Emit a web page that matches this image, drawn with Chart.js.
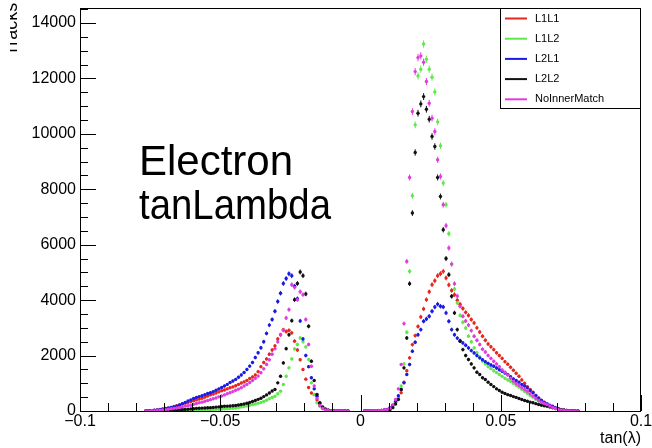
<!DOCTYPE html>
<html lang="en">
<head>
    <meta charset="UTF-8">
    <title>Electron tanLambda</title>
    <script src="https://cdn.jsdelivr.net/npm/chart.js"></script>
    <style>
        body { margin: 0; background: #fff; }
        #plot { display: block; }
    </style>
</head>
<body>
    <canvas id="plot" width="652" height="448"></canvas>

    <script>
        // histogram binning: 1e-3 wide bins, first filled bin centred at -0.0765
        const FIRST_BIN = -0.0765;
        const BIN_WIDTH = 0.001;

        const seriesNames = ['L1L1', 'L1L2', 'L2L1', 'L2L2', 'NoInnerMatch'];
        const seriesColors = ['#e8261c', '#5ee84a', '#1a1ae6', '#111111', '#e03ce0'];

        const xTickLabels = ['\u22120.1', '\u22120.05', '0', '0.05', '0.1'];
        const xTickValues = [-0.1, -0.05, 0, 0.05, 0.1];
        const yTickValues = [0, 2000, 4000, 6000, 8000, 10000, 12000, 14000];

        // bin contents, left lobe (-0.0765 .. -0.0045), 5 empty bins, right lobe (0.0015 .. 0.0775)
        const l1l1 = [
            5, 10, 15, 25, 35, 50, 65, 80, 100, 130,
            160, 190, 220, 250, 280, 310, 340, 370, 400, 430,
            460, 500, 540, 580, 610, 650, 690, 730, 760, 800,
            840, 870, 910, 960, 1010, 1050, 1100, 1170, 1230, 1300,
            1420, 1600, 1750, 1880, 2050, 2200, 2350, 2600, 2750, 2930,
            2870, 2910, 2820, 2520, 2200, 1850, 1500, 1150, 850, 650,
            590, 400, 220, 100, 50, 25, 12, 6, 3, 2,
            1, 1, 1,
            null, null, null, null, null,
            1, 2, 3, 5, 8, 12, 20, 35, 60, 110,
            200, 320, 470, 656, 1038, 1450, 1917, 2396, 2721, 3050,
            3395, 3683, 4018, 4300, 4559, 4700, 4883, 4955, 5038, 4800,
            4550, 4350, 4198, 4000, 3850, 3700, 3560, 3450, 3300, 3178,
            3000, 2850, 2700, 2550, 2420, 2320, 2216, 2100, 2000, 1900,
            1780, 1690, 1580, 1470, 1360, 1255, 1120, 1000, 880, 780,
            680, 560, 475, 390, 317, 240, 190, 150, 110, 80,
            55, 35, 22, 14, 8, 4, 2
        ];

        const l1l2 = [
            1, 1, 2, 3, 4, 5, 6, 8, 10, 12,
            14, 16, 18, 20, 22, 25, 28, 31, 34, 37,
            40, 44, 48, 52, 56, 60, 65, 70, 76, 82,
            90, 100, 110, 125, 140, 160, 180, 205, 230, 255,
            280, 310, 345, 390, 440, 490, 533, 620, 714, 955,
            1255, 1556, 1880, 2241, 2400, 2636, 2500, 2313, 1856, 1016,
            595, 300, 173, 90, 40, 20, 10, 5, 3, 2,
            1, 1, 1,
            null, null, null, null, null,
            1, 1, 2, 3, 5, 8, 12, 20, 35, 60,
            120, 300, 450, 900, 1700, 2840, 5038, 7766, 10325, 12090,
            12332, 13243, 12692, 12332, 12044, 11513, 10432, 9568, 8222, 7441,
            6396, 5300, 4400, 3900, 3450, 3200, 2997, 2700, 2500, 2277,
            2100, 1950, 1800, 1700, 1600, 1530, 1450, 1390, 1320, 1250,
            1180, 1120, 1075, 1000, 930, 860, 780, 700, 630, 560,
            500, 420, 360, 310, 270, 220, 180, 140, 100, 70,
            45, 30, 18, 10, 6, 3, 2
        ];

        const l2l1 = [
            5, 10, 15, 25, 40, 55, 75, 95, 110, 125,
            145, 175, 220, 265, 310, 360, 400, 450, 490, 520,
            550, 590, 630, 660, 700, 750, 800, 850, 900, 960,
            1030, 1080, 1140, 1220, 1300, 1390, 1500, 1620, 1750, 1930,
            2100, 2280, 2500, 2800, 3100, 3300, 3600, 3950, 4250, 4600,
            4780, 4950, 4880, 4500, 4050, 3250, 2600, 2000, 1600, 1200,
            800, 530, 280, 130, 60, 30, 15, 8, 4, 2,
            1, 1, 1,
            null, null, null, null, null,
            1, 2, 3, 5, 8, 12, 20, 35, 60, 110,
            200, 353, 550, 780, 1016, 1315, 1676, 2155, 2479, 2750,
            2937, 3236, 3322, 3416, 3597, 3750, 3856, 3777, 3755, 3539,
            3236, 2937, 2750, 2630, 2540, 2457, 2370, 2277, 2180, 2096,
            2000, 1917, 1850, 1780, 1720, 1660, 1615, 1550, 1490, 1430,
            1370, 1315, 1240, 1160, 1100, 1040, 960, 900, 836, 740,
            660, 560, 460, 380, 310, 260, 210, 173, 120, 80,
            50, 30, 18, 10, 6, 3, 2
        ];

        const l2l2 = [
            2, 3, 5, 8, 10, 15, 20, 25, 30, 35,
            40, 45, 50, 55, 60, 65, 75, 85, 95, 100,
            105, 110, 115, 120, 130, 140, 150, 160, 170, 175,
            180, 190, 200, 215, 234, 255, 280, 310, 345, 380,
            420, 460, 520, 580, 650, 720, 775, 1016, 1255, 1736,
            2250, 2750, 3260, 4018, 4600, 5016, 4883, 4223, 3056, 1796,
            1100, 595, 300, 150, 70, 30, 15, 8, 4, 2,
            1, 1, 1,
            null, null, null, null, null,
            1, 1, 2, 3, 5, 8, 12, 20, 30, 50,
            120, 250, 414, 775, 1556, 2636, 4595, 7142, 9327, 10744,
            11080, 11344, 10888, 10528, 9904, 9543, 8426, 7741, 6541, 5500,
            4919, 4138, 3539, 2937, 2516, 2216, 2000, 1856, 1700, 1556,
            1400, 1315, 1200, 1135, 1040, 955, 880, 800, 740, 678,
            630, 590, 559, 520, 490, 450, 414, 380, 350, 320,
            300, 265, 234, 210, 190, 170, 140, 115, 90, 70,
            50, 35, 22, 14, 8, 4, 2
        ];

        const noInnerMatch = [
            3, 5, 8, 12, 18, 25, 35, 50, 65, 80,
            95, 110, 125, 150, 175, 195, 210, 240, 270, 295,
            320, 350, 380, 410, 440, 470, 510, 540, 580, 620,
            660, 700, 750, 790, 840, 900, 960, 1030, 1100, 1180,
            1260, 1380, 1520, 1680, 1850, 2050, 2250, 2500, 2750, 2913,
            3358, 3658, 4559, 4461, 4018, 4300, 4198, 3300, 2400, 1615,
            900, 450, 200, 90, 40, 20, 10, 5, 3, 2,
            1, 1, 1,
            null, null, null, null, null,
            2, 3, 5, 8, 12, 18, 25, 35, 50, 100,
            230, 414, 800, 1676, 3153, 5398, 8426, 10804, 12245, 12750,
            12811, 12584, 11886, 11106, 10566, 10083, 9063, 8462, 7441, 6685,
            5880, 5300, 4595, 4150, 3777, 3416, 3250, 3100, 2900, 2696,
            2550, 2400, 2230, 2130, 2000, 1900, 1796, 1700, 1600, 1480,
            1400, 1300, 1180, 1075, 990, 920, 850, 780, 714, 620,
            540, 460, 380, 320, 270, 234, 180, 130, 90, 60,
            40, 25, 15, 10, 6, 3, 2
        ];

        const allSeries = [l1l1, l1l2, l2l1, l2l2, noInnerMatch];
        const FONT = '"Liberation Sans", Arial, Helvetica, sans-serif';

        function toPoints(values) {
            const pts = [];
            values.forEach((v, i) => {
                if (v !== null) pts.push({ x: FIRST_BIN + i * BIN_WIDTH, y: v });
            });
            return pts;
        }

        // ROOT-like frame, inward ticks, labels and legend
        const rootStyle = {
            id: 'rootStyle',
            beforeDatasetsDraw(chart) {
                const ctx = chart.ctx;
                const x = chart.scales.x, y = chart.scales.y;
                // statistical error bars, sqrt(N)
                ctx.save();
                chart.data.datasets.forEach(ds => {
                    ctx.strokeStyle = ds.pointBackgroundColor;
                    ctx.lineWidth = 1;
                    ctx.beginPath();
                    ds.data.forEach(p => {
                        const e = Math.sqrt(p.y);
                        const px = x.getPixelForValue(p.x);
                        ctx.moveTo(px, y.getPixelForValue(p.y + e) - 0.5);
                        ctx.lineTo(px, y.getPixelForValue(Math.max(0, p.y - e)) + 0.5);
                    });
                    ctx.stroke();
                });
                ctx.restore();
            },
            afterDraw(chart) {
                const ctx = chart.ctx;
                const area = chart.chartArea;
                const x = chart.scales.x, y = chart.scales.y;
                ctx.save();

                // frame
                ctx.strokeStyle = '#000';
                ctx.lineWidth = 1;
                ctx.strokeRect(area.left + 0.5, area.top + 0.5, area.right - area.left - 1, area.bottom - area.top);

                // x ticks every 0.01, long ones every 0.05
                ctx.beginPath();
                for (let k = -10; k <= 10; k++) {
                    const px = Math.round(x.getPixelForValue(k / 100)) + 0.5;
                    const len = (k % 5 === 0) ? 16 : 8;
                    ctx.moveTo(px, area.bottom);
                    ctx.lineTo(px, area.bottom - len);
                }
                // y ticks every 500, long ones every 2000
                for (let v = 0; v <= y.max; v += 500) {
                    const py = Math.round(y.getPixelForValue(v)) + 0.5;
                    const len = (v % 2000 === 0) ? 16 : 8;
                    ctx.moveTo(area.left, py);
                    ctx.lineTo(area.left + len, py);
                }
                ctx.stroke();

                // tick labels
                ctx.fillStyle = '#000';
                ctx.font = '16px ' + FONT;
                ctx.textAlign = 'right';
                ctx.textBaseline = 'middle';
                yTickValues.forEach(v => {
                    ctx.fillText(String(v), area.left - 4, y.getPixelForValue(v));
                });
                ctx.textAlign = 'center';
                ctx.textBaseline = 'top';
                xTickValues.forEach((v, i) => {
                    ctx.fillText(xTickLabels[i], x.getPixelForValue(v), area.bottom + 3);
                });

                // axis titles
                ctx.textAlign = 'right';
                ctx.textBaseline = 'alphabetic';
                ctx.fillText('tan(\u03bb)', area.right, 443);
                // y title sits against the page edge, only its lower part shows
                ctx.save();
                ctx.beginPath();
                ctx.rect(10, 0, 20, 80);
                ctx.clip();
                ctx.translate(17, 56);
                ctx.rotate(-Math.PI / 2);
                ctx.font = '18px ' + FONT;
                ctx.textAlign = 'left';
                ctx.fillText('Tracks', 0, 0);
                ctx.restore();

                // annotation
                ctx.font = '42px ' + FONT;
                ctx.textAlign = 'left';
                ctx.fillText('Electron', 139, 175);
                ctx.fillText('tanLambda', 139, 219, 192);

                // legend box
                const lx = 500, ly = 8, lw = 140, lh = 100;
                ctx.fillStyle = '#fff';
                ctx.fillRect(lx, ly, lw, lh);
                ctx.strokeStyle = '#000';
                ctx.strokeRect(lx + 0.5, ly + 0.5, lw, lh);
                ctx.font = '11px ' + FONT;
                ctx.textBaseline = 'middle';
                seriesNames.forEach((name, i) => {
                    const ey = ly + 10.5 + i * 20.2;
                    ctx.strokeStyle = seriesColors[i];
                    ctx.lineWidth = 2;
                    ctx.beginPath();
                    ctx.moveTo(lx + 5, ey);
                    ctx.lineTo(lx + 27, ey);
                    ctx.stroke();
                    ctx.fillStyle = '#000';
                    ctx.fillText(name, lx + 35, ey);
                });
                ctx.restore();
            }
        };

        const drawOrder = [4, 3, 2, 1, 0];

        new Chart(document.getElementById('plot'), {
            type: 'scatter',
            data: {
                datasets: allSeries.map((values, i) => ({
                    label: seriesNames[i],
                    data: toPoints(values),
                    showLine: false,
                    pointRadius: 1.7,
                    pointBorderWidth: 0,
                    pointBackgroundColor: seriesColors[i],
                    order: drawOrder[i]
                }))
            },
            options: {
                responsive: false,
                animation: false,
                devicePixelRatio: 1,
                layout: { padding: { left: 80, right: 11, top: 8, bottom: 37 } },
                plugins: { legend: { display: false }, tooltip: { enabled: false } },
                scales: {
                    x: { type: 'linear', min: -0.1, max: 0.1, display: false },
                    y: { type: 'linear', min: 0, max: 14540, display: false }
                }
            },
            plugins: [rootStyle]
        });
    </script>
</body>
</html>
